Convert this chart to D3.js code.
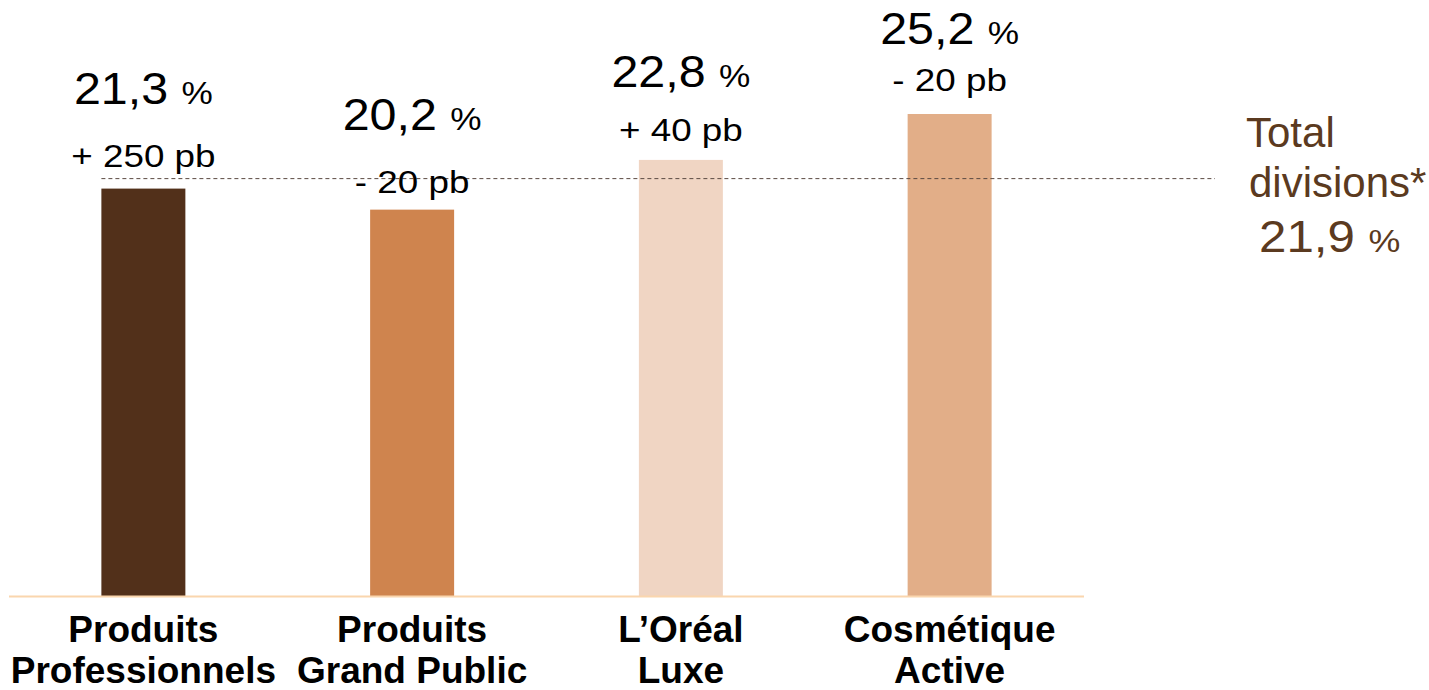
<!DOCTYPE html>
<html>
<head>
<meta charset="utf-8">
<script src="https://cdn.jsdelivr.net/npm/d3@7"></script>
<style>
  html, body { margin: 0; padding: 0; background: #fff; }
  svg { display: block; }
  text { font-family: Arial, "Liberation Sans", sans-serif; }
</style>
</head>
<body>
<svg id="chart" width="1429" height="690"></svg>
<script>
// ---- data ----
const categories = [["Produits", "Professionnels"], ["Produits", "Grand Public"], ["L\u2019Oréal", "Luxe"], ["Cosmétique", "Active"]];
const margins = [21.3, 20.2, 22.8, 25.2];
const valueLabels = ["21,3", "20,2", "22,8", "25,2"];
const changeLabels = ["+ 250 pb", "- 20 pb", "+ 40 pb", "- 20 pb"];
const totalValue = 21.9;
const totalLabel = ["Total", "divisions*", "21,9"];
const barColors = ["#52301A", "#CF844E", "#F0D5C3", "#E2AE88"];

// ---- layout (label offsets, px) ----
const changeGap = [22, 17, 19, 23];
const valueGap = [63, 63, 54, 47];

const svg = d3.select("#chart");
const x = d3.scaleBand().domain(d3.range(categories.length)).range([9, 1084])
  .paddingInner(0.6875).paddingOuter(0.34375);
const y = d3.scaleLinear().domain([0, 25.2]).range([596, 114]);

// bars
svg.append("g").selectAll("rect").data(margins).join("rect")
  .attr("x", (d, i) => x(i))
  .attr("width", x.bandwidth())
  .attr("y", d => y(d))
  .attr("height", d => y(0) - y(d))
  .attr("fill", (d, i) => barColors[i]);

// baseline
svg.append("line")
  .attr("x1", 9).attr("x2", 1084)
  .attr("y1", y(0) + 0.5).attr("y2", y(0) + 0.5)
  .attr("stroke", "#FAD6AE").attr("stroke-width", 2);

// total dashed line
svg.append("line")
  .attr("x1", x(0)).attr("x2", 1215)
  .attr("y1", y(totalValue) + 1.5).attr("y2", y(totalValue) + 1.5)
  .attr("stroke", "#5A4A42").attr("stroke-width", 1)
  .attr("stroke-dasharray", "4,3");

// value labels
const lbl = svg.append("g");
margins.forEach((v, i) => {
  const cx = x(i) + x.bandwidth() / 2;
  const yc = y(v) - changeGap[i];
  const yv = yc - valueGap[i];
  const gv = lbl.append("g").attr("transform", `translate(${cx},${yv}) scale(1.1,1)`);
  const tv = gv.append("text").attr("text-anchor", "middle").attr("fill", "#000");
  tv.append("tspan").attr("font-size", 44).text(valueLabels[i] + " ");
  tv.append("tspan").attr("font-size", 32).text("%");
  const gc = lbl.append("g").attr("transform", `translate(${cx},${yc}) scale(1.15,1)`);
  gc.append("text").attr("text-anchor", "middle").attr("font-size", 32).attr("fill", "#000")
    .text(changeLabels[i]);
});

// category labels
const cat = svg.append("g");
categories.forEach((lines, i) => {
  const cx = x(i) + x.bandwidth() / 2;
  lines.forEach((t, j) => {
    cat.append("text").attr("x", cx).attr("y", 642 + j * 41)
      .attr("text-anchor", "middle").attr("font-size", 37).attr("font-weight", "bold")
      .attr("fill", "#000").text(t);
  });
});

// total annotation
const ann = svg.append("g").attr("fill", "#5B3A20");
ann.append("text").attr("x", 1246).attr("y", 147).attr("font-size", 42).text(totalLabel[0]);
ann.append("text").attr("x", 1249).attr("y", 197).attr("font-size", 42).text(totalLabel[1]);
const gt = ann.append("g").attr("transform", "translate(1259,252) scale(1.12,1)");
const tt = gt.append("text").attr("fill", "#5B3A20");
tt.append("tspan").attr("font-size", 44).text(totalLabel[2] + " ");
tt.append("tspan").attr("font-size", 32).text("%");
</script>
</body>
</html>
